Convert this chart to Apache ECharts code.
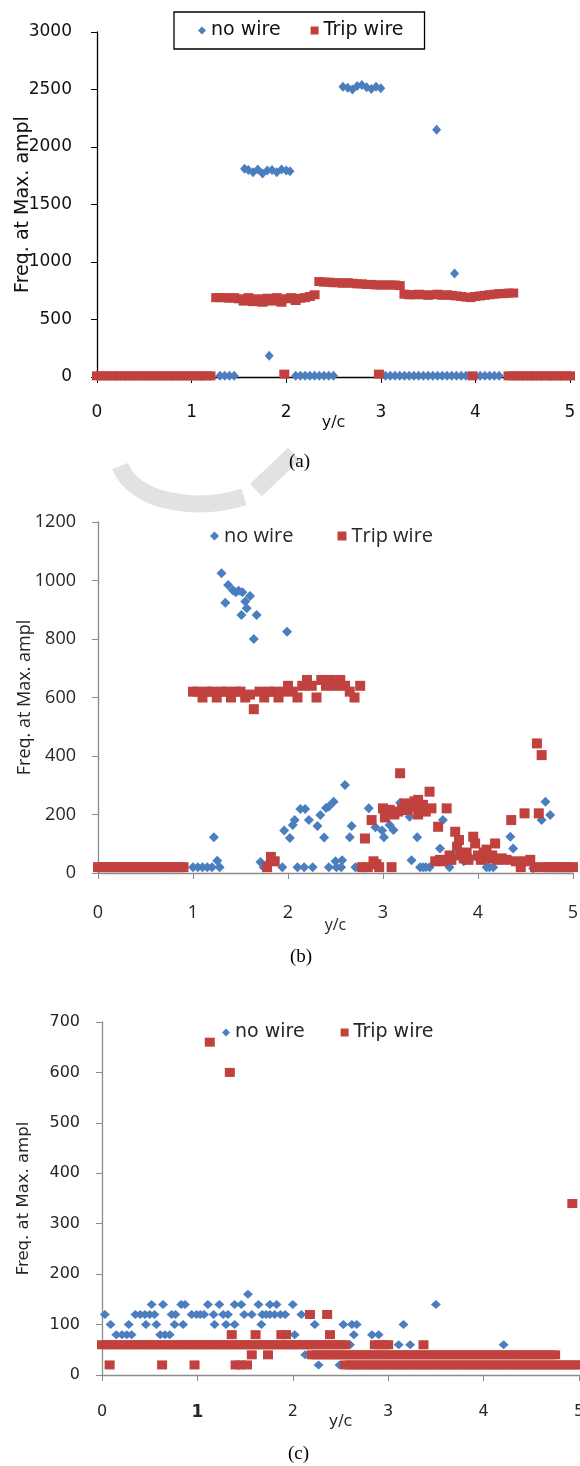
<!DOCTYPE html>
<html>
<head>
<meta charset="utf-8">
<script src="https://cdn.jsdelivr.net/npm/echarts@6/dist/echarts.min.js"></script>
<style>html,body{margin:0;padding:0;background:#fff}#c{width:580px;height:1466px}</style>
</head>
<body>
<div id="c"></div>
<script>
// ---------- DATA ----------
const seriesNames = ['no wire', 'Trip wire'];
const xTicks = [0, 1, 2, 3, 4, 5];
const captions = ['(a)', '(b)', '(c)'];

// (a) [y/c, Freq]
const aNoWire = [
  [0,10],[0.1,10],[0.2,10],[0.3,10],[0.4,10],[0.5,10],[0.6,10],[0.7,10],[0.8,10],[0.9,10],[1,10],[1.1,10],[1.2,10],
  [1.3,10],[1.35,10],[1.4,10],[1.45,10],
  [1.56,1810],[1.6,1800],[1.65,1780],[1.7,1805],[1.75,1770],[1.8,1795],[1.85,1800],[1.9,1780],[1.95,1805],[2,1795],[2.04,1790],
  [1.82,185],
  [2.1,10],[2.15,10],[2.2,10],[2.25,10],[2.3,10],[2.35,10],[2.4,10],[2.45,10],[2.5,10],
  [2.6,2525],[2.65,2515],[2.7,2500],[2.75,2530],[2.8,2540],[2.85,2520],[2.9,2505],[2.95,2525],[3,2510],
  [3.05,10],[3.1,10],[3.15,10],[3.2,10],[3.25,10],[3.3,10],[3.35,10],[3.4,10],[3.45,10],[3.5,10],[3.55,10],[3.6,10],[3.65,10],[3.7,10],[3.75,10],[3.8,10],[3.85,10],[3.9,10],
  [3.59,2150],[3.78,900],
  [4.05,10],[4.1,10],[4.15,10],[4.2,10],[4.25,10],
  [4.4,10],[4.5,10],[4.6,10],[4.7,10],[4.8,10],[4.9,10],[5,10]
];
const aTripWire = [
  [0,10],[0.05,10],[0.1,10],[0.15,10],[0.2,10],[0.25,10],[0.3,10],[0.35,10],[0.4,10],[0.45,10],[0.5,10],[0.55,10],[0.6,10],[0.65,10],[0.7,10],[0.75,10],[0.8,10],[0.85,10],[0.9,10],[0.95,10],[1,10],[1.05,10],[1.1,10],[1.15,10],[1.2,10],
  [1.26,690],[1.3,690],[1.35,690],[1.4,685],[1.45,690],[1.5,680],[1.55,660],[1.6,690],[1.65,655],[1.7,680],[1.75,650],[1.8,685],[1.85,660],[1.9,690],[1.95,650],[2,680],[2.05,690],[2.1,665],[2.15,685],[2.2,690],[2.25,700],[2.3,715],
  [1.98,25],
  [2.35,830],[2.4,825],[2.45,825],[2.5,820],[2.55,820],[2.6,815],[2.65,820],[2.7,815],[2.75,810],[2.8,810],[2.85,805],[2.9,805],[2.95,800],[3,800],[3.05,800],[3.1,800],[3.15,800],[3.2,795],
  [2.98,25],
  [3.25,720],[3.3,715],[3.35,715],[3.4,720],[3.45,715],[3.5,710],[3.55,715],[3.6,720],[3.65,710],[3.7,715],[3.75,710],[3.8,705],[3.85,700],[3.9,695],[3.95,690],[4,700],[4.05,705],[4.1,710],[4.15,715],[4.2,720],[4.25,725],[4.3,725],[4.35,730],[4.4,730],
  [3.97,10],
  [4.35,10],[4.4,10],[4.45,10],[4.5,10],[4.55,10],[4.6,10],[4.65,10],[4.7,10],[4.75,10],[4.8,10],[4.85,10],[4.9,10],[4.95,10],[5,10]
];

// (b)
const bNoWire = [
  [0,20],[0.1,20],[0.2,20],[0.3,20],[0.4,20],[0.5,20],[0.6,20],[0.7,20],[0.8,20],[0.9,20],
  [1,20],[1.05,20],[1.1,20],[1.15,20],[1.2,20],[1.22,122],[1.255,42],[1.28,20],
  [1.3,1025],[1.34,924],[1.37,985],[1.42,967],[1.45,960],[1.48,965],[1.52,960],[1.51,882],[1.55,928],[1.565,905],[1.6,947],[1.64,800],[1.67,882],[1.99,825],
  [1.71,38],[1.745,20],[1.78,30],[1.94,20],[1.96,145],[2.02,120],[2.05,164],[2.07,181],[2.1,20],[2.13,219],[2.17,20],[2.18,219],[2.22,181],[2.26,20],
  [2.31,161],[2.34,198],[2.38,121],[2.4,222],[2.43,227],[2.43,20],[2.48,244],[2.5,40],[2.51,20],[2.56,20],[2.57,44],[2.6,301],[2.65,122],[2.67,161],[2.71,20],
  [2.85,221],[2.92,156],[2.99,145],[3.01,122],[3.07,164],[3.11,147],[3.18,240],[3.28,192],[3.3,44],[3.36,122],[3.39,20],[3.42,20],[3.45,20],[3.49,20],
  [3.6,84],[3.63,181],[3.7,20],[3.75,60],[3.85,40],[3.9,60],[4,50],[4.09,20],[4.12,20],[4.16,20],[4.34,124],[4.37,84],[4.58,16],[4.67,181],[4.71,244],[4.76,198]
];
const bTripWire = [
  [0,20],[0.05,20],[0.1,20],[0.15,20],[0.2,20],[0.25,20],[0.3,20],[0.35,20],[0.4,20],[0.45,20],[0.5,20],[0.55,20],[0.6,20],[0.65,20],[0.7,20],[0.75,20],[0.8,20],[0.85,20],[0.9,20],
  [1,620],[1.05,620],[1.1,600],[1.15,620],[1.2,620],[1.25,600],[1.3,620],[1.35,620],[1.4,600],[1.45,620],[1.5,620],[1.55,600],[1.6,610],[1.64,560],[1.7,620],[1.75,600],[1.8,620],[1.85,620],[1.9,600],
  [1.95,620],[2,640],[2.05,620],[2.1,600],[2.15,640],[2.2,660],[2.25,640],[2.3,600],[2.35,660],[2.4,640],[2.45,660],[2.5,640],[2.55,660],[2.6,640],[2.65,620],[2.7,600],[2.76,640],
  [1.78,20],[1.82,55],[1.86,40],
  [2.78,20],[2.81,118],[2.84,20],[2.88,181],[2.9,40],[2.93,30],[2.96,20],[3,221],[3.02,190],[3.07,216],[3.09,20],[3.12,200],[3.16,210],[3.18,341],[3.2,220],[3.23,238],[3.26,215],[3.3,227],[3.33,245],[3.37,250],[3.37,200],[3.4,220],[3.42,233],[3.45,210],[3.49,278],[3.51,221],
  [3.55,40],[3.58,158],[3.6,45],[3.63,40],[3.67,221],[3.7,60],[3.72,45],[3.76,141],[3.78,90],[3.8,113],[3.82,60],[3.85,50],[3.88,70],[3.9,45],[3.95,124],[3.97,101],[4,60],[4.03,45],[4.06,70],[4.09,80],[4.12,50],[4.15,60],[4.18,101],[4.2,45],[4.25,50],[4.3,45],
  [4.35,181],[4.4,40],[4.45,20],[4.49,204],[4.5,40],[4.55,45],[4.6,20],[4.62,443],[4.64,204],[4.67,403],[4.7,20],[4.75,20],[4.8,20],[4.85,20],[4.9,20],[4.95,20],[5,20]
];

// (c)
const cNoWire = [
  [1.53,160],
  [0.52,140],[0.64,140],[0.83,140],[0.87,140],[1.11,140],[1.23,140],[1.39,140],[1.46,140],[1.64,140],[1.76,140],[1.83,140],[2,140],[3.5,140],
  [0.03,120],[0.35,120],[0.4,120],[0.45,120],[0.5,120],[0.55,120],[0.73,120],[0.77,120],[0.94,120],[0.99,120],[1.03,120],[1.07,120],[1.17,120],[1.27,120],[1.32,120],[1.49,120],[1.57,120],[1.68,120],[1.72,120],[1.76,120],[1.81,120],[1.87,120],[1.92,120],[2.09,120],
  [0.09,100],[0.28,100],[0.46,100],[0.57,100],[0.76,100],[0.85,100],[1.18,100],[1.3,100],[1.39,100],[1.67,100],[2.23,100],[2.53,100],[2.62,100],[2.67,100],[3.16,100],
  [0.15,80],[0.21,80],[0.26,80],[0.31,80],[0.61,80],[0.66,80],[0.71,80],[1.95,80],[2.02,80],[2.64,80],[2.83,80],[2.9,80],
  [2.6,60],[3.11,60],[3.23,60],[4.21,60],
  [2.13,40],[2.44,40],[2.5,40],[2.81,40],[2.88,40],[3,40],[4.29,40],
  [2.27,20],[2.49,20],[2.51,20],[3.37,20]
];
const cTripWire = [
  [1.13,660],[1.34,600],[4.93,340],
  [0,60],[0.05,60],[0.1,60],[0.15,60],[0.2,60],[0.25,60],[0.3,60],[0.35,60],[0.4,60],[0.45,60],[0.5,60],[0.55,60],[0.6,60],[0.65,60],[0.7,60],[0.75,60],[0.8,60],[0.85,60],[0.9,60],[0.95,60],
  [1,60],[1.05,60],[1.1,60],[1.15,60],[1.2,60],[1.25,60],[1.3,60],[1.35,60],[1.4,60],[1.45,60],[1.5,60],[1.55,60],[1.6,60],[1.65,60],[1.7,60],[1.75,60],[1.8,60],[1.85,60],[1.9,60],[1.95,60],
  [2,60],[2.05,60],[2.1,60],[2.15,60],[2.2,60],[2.25,60],[2.3,60],[2.35,60],[2.4,60],[2.45,60],[2.5,60],[2.55,60],
  [0.08,20],[0.63,20],[0.97,20],[1.4,20],[1.45,20],[1.52,20],
  [1.36,80],[1.61,80],[1.88,80],[1.93,80],[2.39,80],
  [1.57,40],[1.74,40],
  [2.18,120],[2.36,120],
  [2.86,60],[2.91,60],[2.96,60],[3,60],[3.37,60],
  [2.2,40],[2.25,40],[2.3,40],[2.35,40],[2.4,40],[2.45,40],[2.5,40],[2.55,40],[2.6,40],[2.65,40],[2.7,40],[2.75,40],[2.8,40],[2.85,40],[2.9,40],[2.95,40],
  [3,40],[3.05,40],[3.1,40],[3.15,40],[3.2,40],[3.25,40],[3.3,40],[3.35,40],[3.4,40],[3.45,40],[3.5,40],[3.55,40],[3.6,40],[3.65,40],[3.7,40],[3.75,40],[3.8,40],[3.85,40],[3.9,40],[3.95,40],
  [4,40],[4.05,40],[4.1,40],[4.15,40],[4.2,40],[4.25,40],[4.3,40],[4.35,40],[4.4,40],[4.45,40],[4.5,40],[4.55,40],[4.6,40],[4.65,40],[4.7,40],[4.75,40],
  [2.55,20],[2.6,20],[2.65,20],[2.7,20],[2.75,20],[2.8,20],[2.85,20],[2.9,20],[2.95,20],
  [3,20],[3.05,20],[3.1,20],[3.15,20],[3.2,20],[3.25,20],[3.3,20],[3.35,20],[3.4,20],[3.45,20],[3.5,20],[3.55,20],[3.6,20],[3.65,20],[3.7,20],[3.75,20],[3.8,20],[3.85,20],[3.9,20],[3.95,20],
  [4,20],[4.05,20],[4.1,20],[4.15,20],[4.2,20],[4.25,20],[4.3,20],[4.35,20],[4.4,20],[4.45,20],[4.5,20],[4.55,20],[4.6,20],[4.65,20],[4.7,20],[4.75,20],[4.8,20],[4.85,20],[4.9,20],[4.95,20],[5,20]
];

const yMax = [3000, 1200, 700];
const yStep = [500, 200, 100];

// ---------- STYLE ----------
const BLUE = '#4A7EBF';
const RED = '#C0413D';
const yTitle = 'Freq. at Max. ampl';
const xTitle = 'y/c';

const grids = [
  { left: 97, top: 32, width: 473, height: 345 },
  { left: 98, top: 522, width: 475, height: 351 },
  { left: 102, top: 1022, width: 477, height: 353 }
].map(g => Object.assign(g, { containLabel: false, outerBoundsMode: 'none' }));
const axisColor = ['#000', '#8c8c8c', '#8c8c8c'];
const fonts = ['DejaVu Sans', 'Open Sans', 'DejaVu Sans'];
const labelSize = [17, 18, 16];
const textColor = ['#111', '#262626', '#262626'];

function xAxis(i) {
  return {
    type: 'value', gridIndex: i, min: xTicks[0], max: xTicks[xTicks.length - 1], interval: 1,
    splitLine: { show: false },
    axisLine: { show: true, onZero: false, lineStyle: { color: axisColor[i], width: 1.3 } },
    axisTick: { show: true, inside: false, length: 6, lineStyle: { color: axisColor[i] } },
    axisLabel: {
      margin: [27, 31, 29][i], fontFamily: fonts[i], fontSize: labelSize[i], color: textColor[i],
      formatter: i === 2 ? (v => v === 1 ? '{b|1}' : String(v)) : (v => String(v)),
      rich: { b: { fontWeight: 'bold', fontFamily: fonts[i], fontSize: 17, color: textColor[i] } }
    },
    name: xTitle, nameLocation: 'middle', nameGap: [38, 44, 39][i], nameMoveOverlap: false,
    nameTextStyle: { fontFamily: fonts[i], fontSize: 16, color: textColor[i] }
  };
}
function yAxis(i) {
  return {
    type: 'value', gridIndex: i, min: 0, max: yMax[i], interval: yStep[i],
    splitLine: { show: false },
    axisLine: { show: true, lineStyle: { color: axisColor[i], width: 1.3 } },
    axisTick: { show: true, inside: false, length: 6, lineStyle: { color: axisColor[i] } },
    axisLabel: { margin: [25, 22, 22][i], fontFamily: fonts[i], fontSize: labelSize[i], color: textColor[i],
      formatter: v => String(v) },
    name: yTitle, nameLocation: 'middle', nameRotate: 90, nameGap: [64, 64, 70][i], nameMoveOverlap: false,
    nameTextStyle: { fontFamily: fonts[i], fontSize: [19, 18, 16.5][i], color: textColor[i] }
  };
}
function sc(name, data, i, isRed) {
  return {
    type: 'scatter', name: name, xAxisIndex: i, yAxisIndex: i, data: data, clip: false,
    symbol: isRed ? 'rect' : 'diamond',
    symbolSize: isRed ? [[10, 9], [10, 10], [10, 9]][i] : [[9, 10], [10, 10], [10, 9]][i],
    itemStyle: { color: isRed ? RED : BLUE, opacity: 1 },
    z: isRed ? 3 : 2
  };
}
const legendItems = [{ name: seriesNames[0], icon: 'diamond' }, { name: seriesNames[1], icon: 'rect' }];

const option = {
  animation: false,
  backgroundColor: '#fff',
  grid: grids,
  xAxis: [xAxis(0), xAxis(1), xAxis(2)],
  yAxis: [yAxis(0), yAxis(1), yAxis(2)],
  legend: [
    { data: legendItems, left: 174, top: 12, orient: 'horizontal', itemGap: 30, itemWidth: 8, itemHeight: 8,
      padding: [9, 21, 9, 24], borderColor: '#000', borderWidth: 1.3,
      textStyle: { fontFamily: 'DejaVu Sans', fontSize: 19, color: '#111', lineHeight: 19 } },
    { data: legendItems, left: 210, top: 526, itemGap: 44, itemWidth: 9, itemHeight: 9, padding: 0,
      textStyle: { fontFamily: 'Open Sans', fontSize: 20, color: '#262626' } },
    { data: legendItems, left: 222, top: 1023, itemGap: 36, itemWidth: 8, itemHeight: 8, padding: 0,
      textStyle: { fontFamily: 'DejaVu Sans', fontSize: 19, color: '#262626' } }
  ],
  series: [
    sc(seriesNames[0], aNoWire, 0, false), sc(seriesNames[1], aTripWire, 0, true),
    sc(seriesNames[0], bNoWire, 1, false), sc(seriesNames[1], bTripWire, 1, true),
    sc(seriesNames[0], cNoWire, 2, false), sc(seriesNames[1], cTripWire, 2, true)
  ],
  graphic: [
    { type: 'bezierCurve', z: -1, silent: true,
      shape: { x1: 120, y1: 466, cpx1: 134, cpy1: 502, cpx2: 195, cpy2: 512, x2: 244, y2: 497 },
      style: { fill: null, stroke: '#e2e2e2', lineWidth: 17 } },
    { type: 'line', z: -1, silent: true, shape: { x1: 256, y1: 490, x2: 294, y2: 454 },
      style: { stroke: '#e2e2e2', lineWidth: 17 } },
    { type: 'text', left: 289, top: 453, style: { text: captions[0], font: '19px "Liberation Serif"', fill: '#000' } },
    { type: 'text', left: 290, top: 948, style: { text: captions[1], font: '19px "Liberation Serif"', fill: '#000' } },
    { type: 'text', left: 288, top: 1445, style: { text: captions[2], font: '19px "Liberation Serif"', fill: '#000' } }
  ]
};
const chart = echarts.init(document.getElementById('c'), null, { renderer: 'canvas' });
chart.setOption(option);
</script>
</body>
</html>
